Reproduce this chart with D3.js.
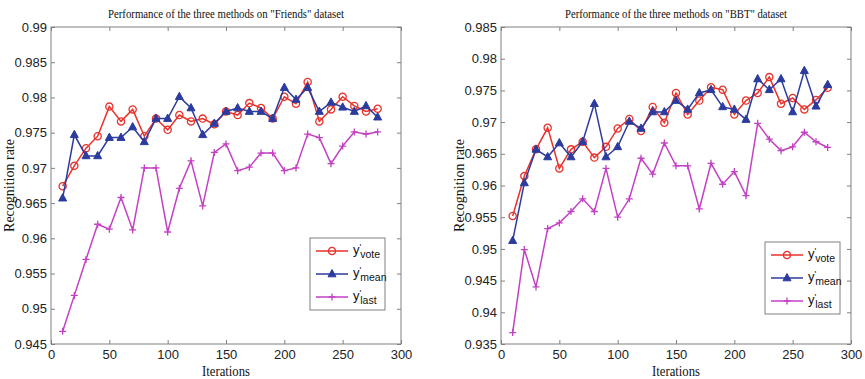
<!DOCTYPE html>
<html>
<head>
<meta charset="utf-8">
<script src="https://cdn.jsdelivr.net/npm/d3@7/dist/d3.min.js"></script>
<style>
  body { margin: 0; background: #fff; }
  .tick text { font-family: "Liberation Sans Narrow", "Liberation Sans", Arial, sans-serif; font-size: 13px; fill: #222; }
  .title, .xlabel, .ylabel { font-family: "Liberation Serif", "Times New Roman", serif; fill: #111; }
</style>
</head>
<body>
<svg id="chart" width="865" height="379"></svg>
<script>
var iterations = [10,20,30,40,50,60,70,80,90,100,110,120,130,140,150,160,170,180,190,200,210,220,230,240,250,260,270,280];
var xTicks = [0,50,100,150,200,250,300];

// "Friends" dataset
var friendsVote = [0.9674,0.9703,0.9728,0.9745,0.9787,0.9766,0.9783,0.9745,0.9770,0.9754,0.9775,0.9766,0.9770,0.9762,
                   0.9780,0.9775,0.9792,0.9785,0.9770,0.9801,0.9791,0.9822,0.9766,0.9783,0.9801,0.9788,0.9780,0.9784];
var friendsMean = [0.9657,0.9747,0.9717,0.9717,0.9743,0.9743,0.9758,0.9737,0.9770,0.9770,0.9801,0.9785,0.9747,0.9763,
                   0.9780,0.9785,0.9780,0.9780,0.9770,0.9814,0.9797,0.9814,0.9780,0.9793,0.9786,0.9780,0.9788,0.9772];
var friendsLast = [0.9468,0.9519,0.9570,0.9620,0.9613,0.9658,0.9612,0.9700,0.9700,0.9609,0.9671,0.9710,0.9646,0.9722,
                   0.9734,0.9696,0.9701,0.9721,0.9721,0.9696,0.9700,0.9748,0.9743,0.9706,0.9731,0.9751,0.9748,0.9751];
var friendsYTicks = [0.945,0.95,0.955,0.96,0.965,0.97,0.975,0.98,0.985,0.99];

// "BBT" dataset
var bbtVote = [0.9552,0.9615,0.9657,0.9691,0.9627,0.9657,0.9669,0.9644,0.9661,0.9690,0.9705,0.9686,0.9724,0.9699,
               0.9746,0.9712,0.9734,0.9755,0.9751,0.9712,0.9734,0.9746,0.9771,0.9729,0.9738,0.9720,0.9735,0.9754];
var bbtMean = [0.9513,0.9604,0.9657,0.9645,0.9667,0.9645,0.9669,0.9729,0.9645,0.9661,0.9701,0.9690,0.9716,0.9716,
               0.9734,0.9720,0.9746,0.9751,0.9724,0.9720,0.9704,0.9768,0.9751,0.9768,0.9716,0.9781,0.9725,0.9759];
var bbtLast = [0.9368,0.9499,0.9440,0.9532,0.9541,0.9559,0.9579,0.9559,0.9627,0.9550,0.9579,0.9643,0.9618,0.9667,
               0.9631,0.9631,0.9563,0.9635,0.9602,0.9622,0.9584,0.9698,0.9673,0.9655,0.9661,0.9684,0.9669,0.9660];
var bbtYTicks = [0.935,0.94,0.945,0.95,0.955,0.96,0.965,0.97,0.975,0.98,0.985];

var seriesNames = ["vote", "mean", "last"];
var colors = {vote: "#e8322b", mean: "#2b3b9e", last: "#c440c4"};

var svg = d3.select("#chart");
var fmt = function(d) { return String(+d.toFixed(3)); };

var drawMarker = function(sel, name) {
  var c = colors[name];
  if (name === "vote") {
    sel.append("circle").attr("r", 3.6).attr("fill", "none").attr("stroke", c).attr("stroke-width", 1.3);
  } else if (name === "mean") {
    sel.append("path").attr("d", "M0,-4.5L4,2.8L-4,2.8Z")
       .attr("fill", c).attr("stroke", c).attr("stroke-width", 1);
  } else {
    sel.append("path").attr("d", "M-3.5,0H3.5M0,-3.5V3.5")
       .attr("stroke", c).attr("stroke-width", 1.3);
  }
};

var drawPanel = function(opt) {
  var x = d3.scaleLinear().domain([0, 300]).range([opt.left, opt.left + 350]);
  var y = d3.scaleLinear().domain([opt.yTicks[0], opt.yTicks[opt.yTicks.length-1]]).range([344, 27]);
  var g = svg.append("g");

  g.append("rect")
   .attr("x", opt.left).attr("y", 27).attr("width", 350).attr("height", 317)
   .attr("fill", "none").attr("stroke", "#808080");

  var styleAxis = function(sel, labels) {
    sel.select(".domain").remove();
    sel.selectAll(".tick line").attr("stroke", "#808080");
    if (!labels) sel.selectAll(".tick text").remove();
  };

  g.append("g").attr("transform", "translate(0,344)")
   .call(d3.axisBottom(x).tickValues(xTicks).tickSize(-4).tickPadding(6))
   .call(styleAxis, true);
  g.append("g").attr("transform", "translate(0,27)")
   .call(d3.axisTop(x).tickValues(xTicks).tickSize(-4))
   .call(styleAxis, false);
  g.append("g").attr("transform", "translate(" + opt.left + ",0)")
   .call(d3.axisLeft(y).tickValues(opt.yTicks).tickFormat(fmt).tickSize(-4).tickPadding(4))
   .call(styleAxis, true);
  g.append("g").attr("transform", "translate(" + (opt.left + 350) + ",0)")
   .call(d3.axisRight(y).tickValues(opt.yTicks).tickSize(-4))
   .call(styleAxis, false);

  var line = d3.line().x(function(d) { return x(d[0]); }).y(function(d) { return y(d[1]); });

  seriesNames.forEach(function(name) {
    var pts = iterations.map(function(it, i) { return [it, opt.data[name][i]]; });
    g.append("path").datum(pts)
     .attr("d", line).attr("fill", "none")
     .attr("stroke", colors[name]).attr("stroke-width", 1.5);
    var m = g.append("g").selectAll("g").data(pts).enter().append("g")
             .attr("transform", function(d) { return "translate(" + x(d[0]) + "," + y(d[1]) + ")"; });
    drawMarker(m, name);
  });

  g.append("text").attr("class", "title")
   .attr("x", opt.left + 175).attr("y", 18).attr("text-anchor", "middle")
   .attr("font-size", 11.5).attr("textLength", opt.titleWidth).attr("lengthAdjust", "spacingAndGlyphs")
   .text(opt.title);
  g.append("text").attr("class", "xlabel")
   .attr("x", opt.left + 175).attr("y", 376).attr("text-anchor", "middle")
   .attr("font-size", 14).attr("textLength", 48).attr("lengthAdjust", "spacingAndGlyphs")
   .text("Iterations");
  g.append("text").attr("class", "ylabel")
   .attr("transform", "translate(" + (opt.left - 37) + ",185.5) rotate(-90)")
   .attr("text-anchor", "middle").attr("font-size", 14).text("Recognition rate");

  // legend
  var lg = g.append("g").attr("transform", "translate(" + opt.legend[0] + "," + opt.legend[1] + ")");
  lg.append("rect").attr("width", 75).attr("height", 72)
    .attr("fill", "#fff").attr("stroke", "#808080");
  seriesNames.forEach(function(name, i) {
    var row = lg.append("g").attr("transform", "translate(0," + (13 + i * 23) + ")");
    row.append("line").attr("x1", 6).attr("x2", 38)
       .attr("stroke", colors[name]).attr("stroke-width", 1.5);
    drawMarker(row.append("g").attr("transform", "translate(22,0)"), name);
    var t = row.append("text").attr("x", 43).attr("y", 3)
       .attr("font-family", "Liberation Sans, Arial, sans-serif").attr("font-size", 13).attr("fill", "#111");
    t.append("tspan").text("y");
    t.append("tspan").attr("dy", -4).attr("font-size", 9).text("'");
    t.append("tspan").attr("dy", 8).attr("dx", -1).attr("font-size", 10.5).text(name);
  });
};

drawPanel({
  left: 51,
  yTicks: friendsYTicks,
  data: {vote: friendsVote, mean: friendsMean, last: friendsLast},
  title: "Performance of the three methods on \"Friends\" dataset",
  titleWidth: 236,
  legend: [310, 238]
});

drawPanel({
  left: 501,
  yTicks: bbtYTicks,
  data: {vote: bbtVote, mean: bbtMean, last: bbtLast},
  title: "Performance of the three methods on \"BBT\" dataset",
  titleWidth: 222,
  legend: [765, 242]
});
</script>
</body>
</html>
